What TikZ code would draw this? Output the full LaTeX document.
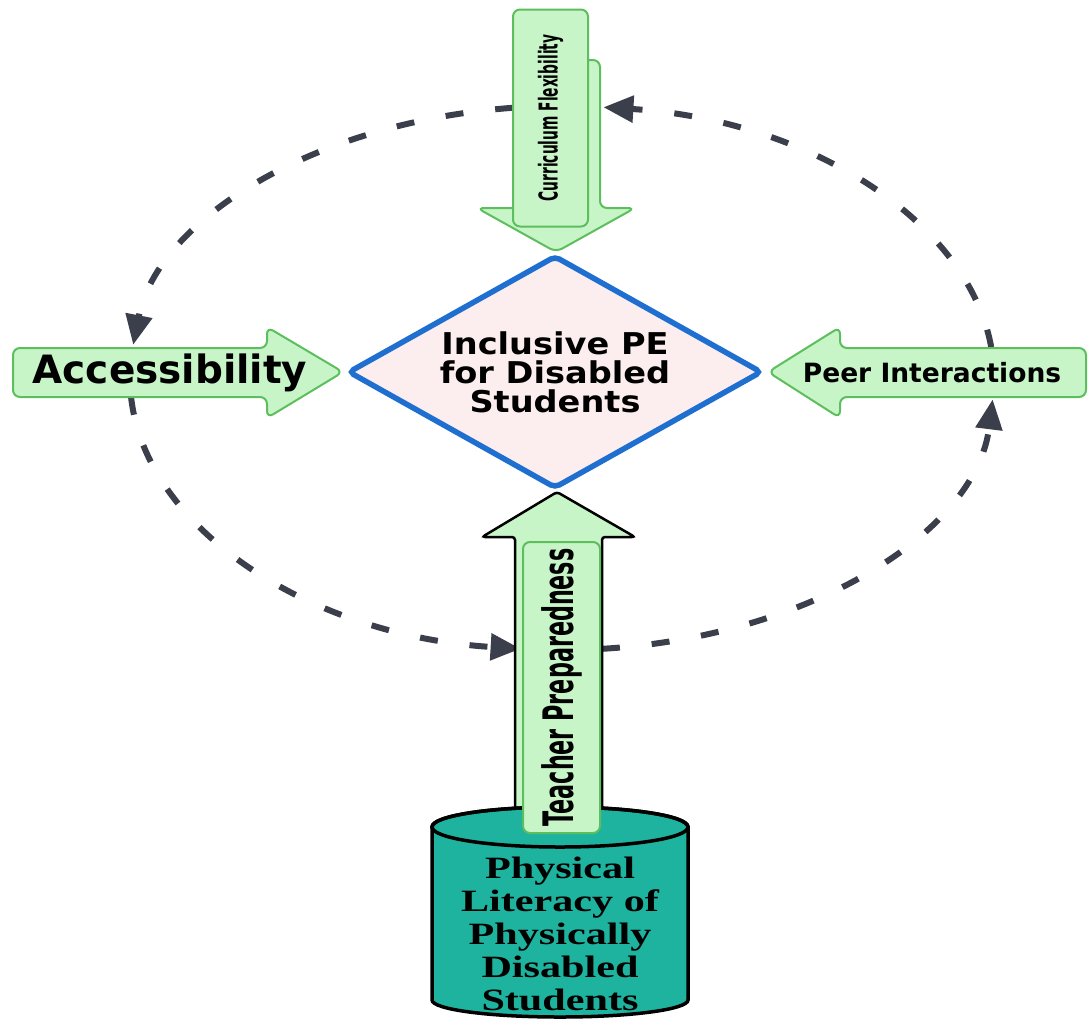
\documentclass[tikz,border=0pt]{standalone}
\usepackage{fontspec}
\setmainfont{Liberation Serif}
\newfontfamily\labelsans{DejaVu Sans}
\newfontfamily\widesans[FakeStretch=1.12]{DejaVu Sans}
\newfontfamily\narrowsans[FakeStretch=0.53]{DejaVu Sans}
\newfontfamily\drumserif[FakeStretch=1.36]{Liberation Serif}
\usetikzlibrary{arrows.meta,shapes.geometric}
\definecolor{boxgreen}{HTML}{C8F5C8}
\definecolor{edgegreen}{HTML}{5DBE5D}
\definecolor{hubblue}{HTML}{1E6FD0}
\definecolor{hubpink}{HTML}{FCEEEE}
\definecolor{drumteal}{HTML}{1DB39E}
\definecolor{ringgray}{HTML}{3A3F4B}

\begin{document}
\begin{tikzpicture}[x=1pt,y=-1pt,
    greenbox/.style={fill=boxgreen,draw=edgegreen,line width=2pt,rounded corners=7pt},
    ringdash/.style={draw=ringgray,line width=6pt,dash pattern=on 18pt off 32pt,
        -{Triangle[length=30pt,width=26pt]}},
    ringr/.style={x radius=432,y radius=272}]
    \useasboundingbox (0,0) rectangle (1089,1021);

    % dashed cycle round the hub
    \coordinate (ring) at (562,378);
    \draw[ringdash] (ring) ++(-96.5:432 and 272) arc[ringr,start angle=-96.5,end angle=-173];
    \draw[ringdash] (ring) ++(176:432 and 272) arc[ringr,start angle=176,end angle=95.5];
    \draw[ringdash] (ring) ++(84.7:432 and 272) arc[ringr,start angle=84.7,end angle=4.5];
    \draw[ringdash] (ring) ++(-6.5:432 and 272) arc[ringr,start angle=-6.5,end angle=-84.5];

    % side arrows
    \draw[greenbox] (13,348) -- (267,348) -- (267,327) -- (343,372) -- (267,418) -- (267,397) -- (13,397) -- cycle;
    \node[font=\labelsans\bfseries\fontsize{39}{44}\selectfont] (access) at (170,373) {Accessibility};
    \draw[greenbox] (1086,348) -- (840,348) -- (840,327) -- (768,372) -- (840,418) -- (840,397) -- (1086,397) -- cycle;
    \node[font=\labelsans\bfseries\fontsize{26.5}{30}\selectfont] (peer) at (932,373) {Peer Interactions};

    % top arrow
    \draw[greenbox] (528,60) -- (600,60) -- (600,208) -- (635,208) -- (556,252) -- (477,208) -- (528,208) -- cycle;
    \node[greenbox,rotate=90,minimum width=217pt,minimum height=75pt,inner sep=0pt,
        font=\narrowsans\bfseries\fontsize{26}{29}\selectfont] (curric) at (550.5,118) {Curriculum Flexibility};

    % bottom arrow
    \draw[fill=boxgreen,draw=black,line width=2.5pt,rounded corners=3pt]
        (515,830) -- (515,537) -- (482,537) -- (557,492) -- (635,537) -- (602,537) -- (602,830) -- cycle;

    % drum
    \draw[fill=drumteal,line width=3.5pt] (432,827) -- (432,1000) arc[start angle=180,end angle=0,x radius=128,y radius=17]
        -- (688,827) arc[start angle=0,end angle=-180,x radius=128,y radius=20] -- cycle;
    \draw[line width=3.5pt] (560,827) ellipse[x radius=128,y radius=20];
    \node[align=center,font=\drumserif\bfseries\fontsize{31}{33}\selectfont] (drum) at (560,934)
        {Physical\\Literacy of\\Physically\\Disabled\\Students};

    \node[greenbox,rotate=90,minimum width=291pt,minimum height=77pt,inner sep=0pt,
        font=\narrowsans\bfseries\fontsize{42}{46}\selectfont] (teacher) at (561.5,687.5) {Teacher Preparedness};

    % hub
    \node[diamond,draw=hubblue,fill=hubpink,line width=5.5pt,aspect=1.78,minimum width=414pt,
        minimum height=233pt,inner sep=0pt,rounded corners=5pt,align=center,
        font=\widesans\bfseries\fontsize{30}{29}\selectfont] (hub) at (555,372)
        {Inclusive PE\\for Disabled\\Students};
\end{tikzpicture}
\end{document}
